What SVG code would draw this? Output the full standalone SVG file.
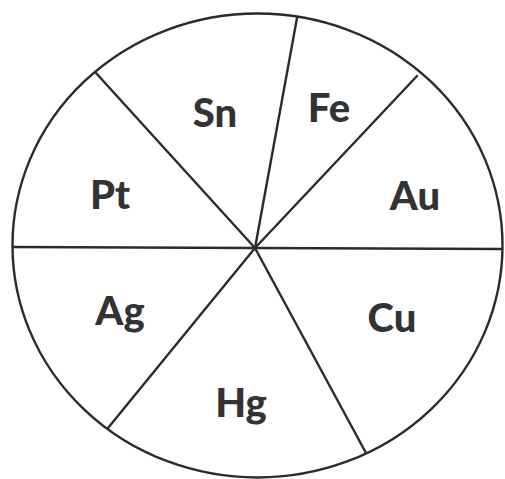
<svg xmlns="http://www.w3.org/2000/svg" width="505" height="479" viewBox="0 0 505 479">
<style>
.l{stroke:#2b2b2b;stroke-width:2.4;fill:none;stroke-linecap:round}
.t{font-family:Lato,"Open Sans",sans-serif;font-weight:900;font-size:40px;fill:#333;text-anchor:middle}
</style>
<rect width="505" height="479" fill="#fff"/>
<g id="connectors">
<ellipse class="l" cx="257.5" cy="245.5" rx="245" ry="232"/>
<line class="l" x1="255" y1="248" x2="297" y2="18"/>
<line class="l" x1="255" y1="248" x2="417" y2="76"/>
<line class="l" x1="255" y1="248" x2="502" y2="249"/>
<line class="l" x1="255" y1="248" x2="366" y2="453"/>
<line class="l" x1="255" y1="248" x2="108" y2="428"/>
<line class="l" x1="255" y1="248" x2="13" y2="247"/>
<line class="l" x1="255" y1="248" x2="96" y2="73"/>
</g>
<g id="sn"><text class="t" x="215" y="127">Sn</text></g>
<g id="fe"><text class="t" x="329" y="122">Fe</text></g>
<g id="au"><text class="t" x="415" y="210">Au</text></g>
<g id="pt"><text class="t" x="110" y="209">Pt</text></g>
<g id="ag"><text class="t" x="120" y="325">Ag</text></g>
<g id="cu"><text class="t" x="392" y="332">Cu</text></g>
<g id="hg"><text class="t" x="241" y="417">Hg</text></g>
</svg>
